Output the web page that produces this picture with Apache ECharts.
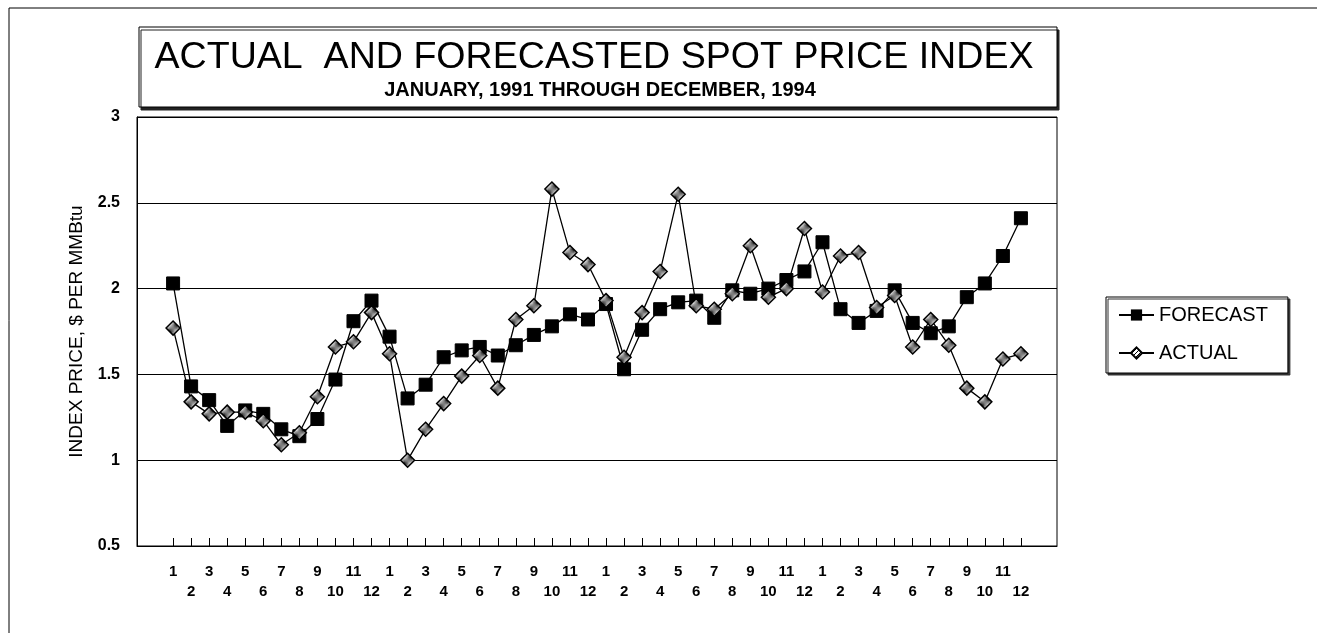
<!DOCTYPE html>
<html>
<head>
<meta charset="utf-8">
<script src="https://cdn.jsdelivr.net/npm/echarts@6/dist/echarts.min.js"></script>
<style>
html,body{margin:0;padding:0;background:#fff;}
#chart{width:1317px;height:633px;}
</style>
</head>
<body>
<div id="chart"></div>
<script>
const titleText = 'ACTUAL  AND FORECASTED SPOT PRICE INDEX';
const subtitleText = 'JANUARY, 1991 THROUGH DECEMBER, 1994';
const yAxisName = 'INDEX PRICE, $ PER MMBtu';
const monthLabels = ['1','2','3','4','5','6','7','8','9','10','11','12'];
const years = [1991, 1992, 1993, 1994];
const yTicks = [0.5, 1, 1.5, 2, 2.5, 3];
const seriesNames = ['FORECAST', 'ACTUAL'];

const forecast = [2.03,1.43,1.35,1.20,1.29,1.27,1.18,1.14,1.24,1.47,1.81,1.93,
                  1.72,1.36,1.44,1.60,1.64,1.66,1.61,1.67,1.73,1.78,1.85,1.82,
                  1.91,1.53,1.76,1.88,1.92,1.93,1.83,1.99,1.97,2.00,2.05,2.10,
                  2.27,1.88,1.80,1.87,1.99,1.80,1.74,1.78,1.95,2.03,2.19,2.41];
const actual   = [1.77,1.34,1.27,1.28,1.28,1.23,1.09,1.16,1.37,1.66,1.69,1.86,
                  1.62,1.00,1.18,1.33,1.49,1.61,1.42,1.82,1.90,2.58,2.21,2.14,
                  1.93,1.60,1.86,2.10,2.55,1.90,1.88,1.97,2.25,1.95,2.00,2.35,
                  1.98,2.19,2.21,1.89,1.96,1.66,1.82,1.67,1.42,1.34,1.59,1.62];

const nPts = years.length * monthLabels.length;
const idx = Array.from({length: nPts}, (_, i) => i);
const toPairs = arr => arr.map((v, i) => [i, v]);

// small hatch pattern for the ACTUAL diamonds
const hatch = document.createElement('canvas');
hatch.width = 4; hatch.height = 4;
(function () {
  const c = hatch.getContext('2d');
  c.fillStyle = '#fff'; c.fillRect(0, 0, 4, 4);
  c.strokeStyle = '#000'; c.lineWidth = 1;
  c.beginPath(); c.moveTo(0, 4); c.lineTo(4, 0); c.stroke();
})();

const chart = echarts.init(document.getElementById('chart'), null, {renderer: 'canvas'});
const FONT = "'Liberation Sans', Arial, sans-serif";

chart.setOption({
  animation: false,
  backgroundColor: '#fff',
  title: [
    {text: titleText, left: 589, top: 34, textAlign: 'center',
     textStyle: {fontFamily: FONT, fontSize: 37.6, fontWeight: 'normal', color: '#000'}},
    {text: subtitleText, left: 595, top: 75, textAlign: 'center',
     textStyle: {fontFamily: FONT, fontSize: 20, fontWeight: 'bold', color: '#000'}}
  ],
  graphic: [
    {type: 'line', shape: {x1: 9, y1: 8, x2: 1317, y2: 8}, style: {stroke: '#000', lineWidth: 1}, z: -1},
    {type: 'line', shape: {x1: 9, y1: 8, x2: 9, y2: 633}, style: {stroke: '#000', lineWidth: 1}, z: -1},
    {type: 'rect', shape: {x: 139, y: 27, width: 918, height: 80},
     style: {fill: '#fff', stroke: '#000', lineWidth: 1, shadowColor: '#222', shadowOffsetX: 2, shadowOffsetY: 3, shadowBlur: 0}, z: -1}
  ],
  legend: {
    orient: 'vertical',
    left: 1106, top: 297,
    padding: [8, 20, 10, 12],
    itemGap: 18,
    itemWidth: 35, itemHeight: 14,
    backgroundColor: '#fff',
    borderColor: '#000', borderWidth: 1,
    shadowColor: '#333', shadowOffsetX: 2, shadowOffsetY: 2, shadowBlur: 0,
    textStyle: {fontFamily: FONT, fontSize: 20, color: '#000'},
    data: seriesNames
  },
  grid: {left: 137, right: 260, top: 117, bottom: 87, show: true, borderColor: '#000', borderWidth: 1, backgroundColor: 'transparent'},
  xAxis: {
    type: 'value', min: -2, max: 49,
    axisLine: {show: true, onZero: false, lineStyle: {color: '#000', width: 1}},
    splitLine: {show: false},
    axisTick: {show: true, inside: true, length: 8, customValues: idx, lineStyle: {color: '#000'}},
    axisLabel: {
      customValues: idx, margin: 16, lineHeight: 20,
      fontFamily: FONT, fontSize: 15, fontWeight: 'bold', color: '#000',
      formatter: v => { const i = Math.round(v); const m = monthLabels[i % 12]; return (i % 2 === 1) ? '\n' + m : m; }
    }
  },
  yAxis: {
    type: 'value', min: yTicks[0], max: yTicks[yTicks.length - 1], interval: 0.5,
    name: yAxisName, nameLocation: 'middle', nameGap: 51,
    nameTextStyle: {fontFamily: FONT, fontSize: 19, color: '#000'},
    axisLine: {show: true, onZero: false, lineStyle: {color: '#000', width: 1}},
    axisTick: {show: false},
    splitLine: {show: true, lineStyle: {color: '#000', width: 1}},
    axisLabel: {margin: 17, fontFamily: FONT, fontSize: 16, fontWeight: 'bold', color: '#000'}
  },
  series: [
    {name: seriesNames[0], type: 'line', data: toPairs(forecast),
     symbol: 'rect', symbolSize: 13,
     lineStyle: {color: '#000', width: 1.3},
     itemStyle: {color: '#000', borderColor: '#000'}},
    {name: seriesNames[1], type: 'line', data: toPairs(actual),
     symbol: 'diamond', symbolSize: 14,
     lineStyle: {color: '#000', width: 1.3},
     itemStyle: {color: {image: hatch, repeat: 'repeat'}, borderColor: '#000', borderWidth: 1.5}}
  ]
});
</script>
</body>
</html>
